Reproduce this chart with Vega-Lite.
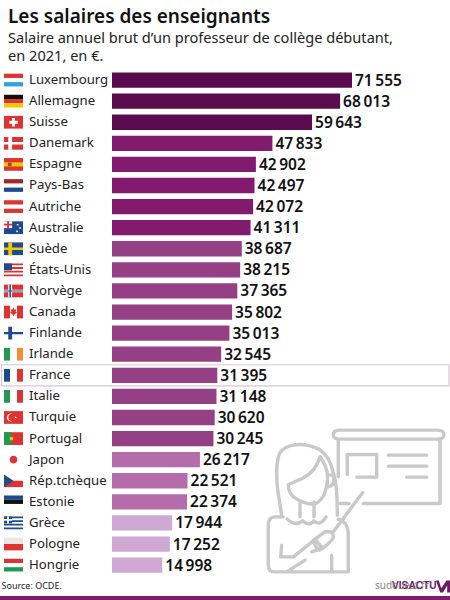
{
  "$schema": "https://vega.github.io/schema/vega-lite/v6.json",
  "width": 450,
  "height": 527.25,
  "padding": {"left": 0, "right": 0, "top": 69.5, "bottom": 3.25},
  "autosize": "none",
  "background": "white",
  "title": {
    "text": "Les salaires des enseignants",
    "subtitle": ["Salaire annuel brut d’un professeur de collège débutant,", "en 2021, en €."],
    "anchor": "start",
    "frame": "group",
    "dx": 8,
    "offset": 6,
    "font": "Noto Sans",
    "fontSize": 19,
    "fontWeight": 600,
    "color": "#111111",
    "subtitleFont": "Noto Sans",
    "subtitleFontSize": 14.6,
    "subtitleColor": "#222222",
    "subtitlePadding": 4,
    "subtitleLineHeight": 18
  },
  "config": {
    "view": {"stroke": null},
    "font": "Noto Sans",
    "locale": {"number": {"decimal": ",", "thousands": "\u2009", "grouping": [3], "currency": ["", " €"]}}
  },
  "datasets": {
    "salaires": [
      {"pays": "Luxembourg", "salaire": 71555},
      {"pays": "Allemagne", "salaire": 68013},
      {"pays": "Suisse", "salaire": 59643},
      {"pays": "Danemark", "salaire": 47833},
      {"pays": "Espagne", "salaire": 42902},
      {"pays": "Pays-Bas", "salaire": 42497},
      {"pays": "Autriche", "salaire": 42072},
      {"pays": "Australie", "salaire": 41311},
      {"pays": "Suède", "salaire": 38687},
      {"pays": "États-Unis", "salaire": 38215},
      {"pays": "Norvège", "salaire": 37365},
      {"pays": "Canada", "salaire": 35802},
      {"pays": "Finlande", "salaire": 35013},
      {"pays": "Irlande", "salaire": 32545},
      {"pays": "France", "salaire": 31395},
      {"pays": "Italie", "salaire": 31148},
      {"pays": "Turquie", "salaire": 30620},
      {"pays": "Portugal", "salaire": 30245},
      {"pays": "Japon", "salaire": 26217},
      {"pays": "Rép.tchèque", "salaire": 22521},
      {"pays": "Estonie", "salaire": 22374},
      {"pays": "Grèce", "salaire": 17944},
      {"pays": "Pologne", "salaire": 17252},
      {"pays": "Hongrie", "salaire": 14998}
    ],
    "drapeaux": [
      {"pays": "Luxembourg", "forme": "haut", "teinte": "rouge"},
      {"pays": "Luxembourg", "forme": "bas", "teinte": "ciel"},
      {"pays": "Allemagne", "forme": "haut", "teinte": "noir"},
      {"pays": "Allemagne", "forme": "milieu", "teinte": "rouge"},
      {"pays": "Allemagne", "forme": "bas", "teinte": "jaune"},
      {"pays": "Suisse", "forme": "plein", "teinte": "rouge"},
      {"pays": "Suisse", "forme": "croix", "teinte": "blanc"},
      {"pays": "Danemark", "forme": "plein", "teinte": "rouge"},
      {"pays": "Danemark", "forme": "nordique", "teinte": "blanc"},
      {"pays": "Espagne", "forme": "plein", "teinte": "rouge"},
      {"pays": "Espagne", "forme": "milieu", "teinte": "jaune"},
      {"pays": "Espagne", "forme": "ecusson", "teinte": "brun"},
      {"pays": "Pays-Bas", "forme": "haut", "teinte": "bordeaux"},
      {"pays": "Pays-Bas", "forme": "bas", "teinte": "bleu"},
      {"pays": "Autriche", "forme": "haut", "teinte": "rouge"},
      {"pays": "Autriche", "forme": "bas", "teinte": "rouge"},
      {"pays": "Australie", "forme": "plein", "teinte": "bleu"},
      {"pays": "Australie", "forme": "canton", "teinte": "blanc"},
      {"pays": "Australie", "forme": "croixcanton", "teinte": "rouge"},
      {"pays": "Australie", "forme": "etoiles", "teinte": "blanc"},
      {"pays": "Suède", "forme": "plein", "teinte": "bleu"},
      {"pays": "Suède", "forme": "nordique", "teinte": "jaune"},
      {"pays": "États-Unis", "forme": "rayures", "teinte": "rouge"},
      {"pays": "États-Unis", "forme": "canton", "teinte": "bleu"},
      {"pays": "Norvège", "forme": "plein", "teinte": "rouge"},
      {"pays": "Norvège", "forme": "nordique", "teinte": "blanc"},
      {"pays": "Norvège", "forme": "nordiquefin", "teinte": "bleu"},
      {"pays": "Canada", "forme": "gauche", "teinte": "rouge"},
      {"pays": "Canada", "forme": "droite", "teinte": "rouge"},
      {"pays": "Canada", "forme": "feuille", "teinte": "rouge"},
      {"pays": "Finlande", "forme": "nordique", "teinte": "bleu"},
      {"pays": "Irlande", "forme": "gauche", "teinte": "vert"},
      {"pays": "Irlande", "forme": "droite", "teinte": "orange"},
      {"pays": "France", "forme": "gauche", "teinte": "bleu"},
      {"pays": "France", "forme": "droite", "teinte": "rouge"},
      {"pays": "Italie", "forme": "gauche", "teinte": "vert"},
      {"pays": "Italie", "forme": "droite", "teinte": "rouge"},
      {"pays": "Turquie", "forme": "plein", "teinte": "rouge"},
      {"pays": "Turquie", "forme": "croissant", "teinte": "blanc"},
      {"pays": "Portugal", "forme": "plein", "teinte": "rouge"},
      {"pays": "Portugal", "forme": "hampe", "teinte": "vert"},
      {"pays": "Portugal", "forme": "sceau", "teinte": "jaune"},
      {"pays": "Japon", "forme": "disque", "teinte": "rouge"},
      {"pays": "Rép.tchèque", "forme": "moitie", "teinte": "rouge"},
      {"pays": "Rép.tchèque", "forme": "triangle", "teinte": "bleu"},
      {"pays": "Estonie", "forme": "haut", "teinte": "bleu"},
      {"pays": "Estonie", "forme": "milieu", "teinte": "noir"},
      {"pays": "Grèce", "forme": "rayures", "teinte": "bleu"},
      {"pays": "Grèce", "forme": "canton", "teinte": "bleu"},
      {"pays": "Grèce", "forme": "croixcanton", "teinte": "blanc"},
      {"pays": "Pologne", "forme": "moitiehaut", "teinte": "gris"},
      {"pays": "Pologne", "forme": "moitie", "teinte": "rouge"},
      {"pays": "Hongrie", "forme": "haut", "teinte": "rouge"},
      {"pays": "Hongrie", "forme": "bas", "teinte": "vert"}
    ]
  },
  "encoding": {
    "y": {
      "field": "pays",
      "type": "nominal",
      "axis": null,
      "sort": null,
      "scale": {
        "domain": ["Luxembourg", "Allemagne", "Suisse", "Danemark", "Espagne", "Pays-Bas", "Autriche", "Australie", "Suède", "États-Unis", "Norvège", "Canada", "Finlande", "Irlande", "France", "Italie", "Turquie", "Portugal", "Japon", "Rép.tchèque", "Estonie", "Grèce", "Pologne", "Hongrie", "Source"],
        "paddingInner": 0,
        "paddingOuter": 0
      }
    }
  },
  "layer": [
    {
      "data": {"values": [{"pays": "France"}]},
      "mark": {"type": "rect", "fill": null, "stroke": "#d9c3d9", "strokeWidth": 1.2},
      "encoding": {
        "x": {"datum": -32945, "type": "quantitative", "axis": null, "scale": {"domain": [-33392, 100775], "nice": false, "zero": false}},
        "x2": {"datum": 100475}
      }
    },
    {
      "data": {"values": [{"pays": "Estonie"}]},
      "mark": {
        "type": "point",
        "filled": false,
        "stroke": "#c9c9c9",
        "strokeWidth": 3.4,
        "strokeCap": "round",
        "strokeJoin": "round",
        "opacity": 1,
        "size": 40000,
        "shape": "M-.1,-.717H.873Q.94,-.717 .94,-.67Q.94,-.627 .873,-.627H-.1Q-.167,-.627 -.167,-.67Q-.167,-.717 -.1,-.717ZM-.117,-.617V-.25M.9,-.617V.017H.133M-.1,.017H-.007M.067,-.247H.267V-.473H-.027V-.273M.383,-.467H.767M.383,-.357H.767M.567,-.247H.767M-.717,-.45Q-.7,-.53 -.6,-.56Q-.45,-.6 -.3,-.52Q-.2,-.45 -.17,-.3Q-.127,-.2 -.127,.133M-.717,-.45Q-.75,-.3 -.72,-.1L-.683,.133M-.3,-.45Q-.35,-.3 -.45,-.25Q-.5,-.22 -.617,-.173Q-.617,-.08 -.55,-.04Q-.45,.03 -.35,.02Q-.25,-.02 -.227,-.2Q-.21,-.33 -.3,-.45ZM-.2,-.27Q-.16,-.27 -.16,-.22Q-.16,-.16 -.22,-.15M-.5,0V.15M-.36,0V.15M-.63,.17Q-.55,.25 -.473,.19Q-.41,.25 -.36,.19Q-.3,.25 -.24,.15M-.667,.15H-.75Q-.817,.15 -.817,.233V.633Q-.817,.7 -.75,.7H-.017V.333Q-.017,.2 -.117,.173M-.683,.433L-.693,.55H-.567L-.317,.35M-.367,.383L-.25,.3Q-.167,.283 -.167,.35Q-.167,.39 -.3,.483Q-.35,.46 -.367,.383ZM-.343,.383L-.273,.467M-.383,.5L-.283,.467M-.45,.583L-.633,.7M-.183,.533V.683M-.167,.3L.127,-.093"
      },
      "encoding": {
        "x": {"datum": 70959, "type": "quantitative"}
      }
    },
    {
      "data": {"name": "salaires"},
      "mark": {"type": "bar", "size": 15.3},
      "encoding": {
        "x": {"field": "salaire", "type": "quantitative"},
        "color": {
          "field": "salaire",
          "type": "quantitative",
          "legend": null,
          "scale": {
            "type": "threshold",
            "domain": [20000, 30000, 40000, 50000],
            "range": ["#cfa8d3", "#b56cab", "#953f84", "#821a6e", "#5a0b4d"]
          }
        }
      }
    },
    {
      "data": {"name": "salaires"},
      "mark": {"type": "text", "align": "left", "baseline": "middle", "dx": 3, "dy": 0.5, "font": "Noto Sans", "fontSize": 15.5, "fontWeight": 600, "color": "#111111"},
      "encoding": {
        "x": {"field": "salaire", "type": "quantitative"},
        "text": {"field": "salaire", "type": "quantitative", "format": ",d"}
      }
    },
    {
      "data": {"name": "salaires"},
      "mark": {"type": "text", "align": "left", "baseline": "middle", "font": "Noto Sans", "fontSize": 13.2, "color": "#222222"},
      "encoding": {
        "x": {"datum": -24746, "type": "quantitative"},
        "text": {"field": "pays"}
      }
    },
    {
      "data": {"name": "drapeaux"},
      "mark": {"type": "point", "filled": true, "opacity": 1, "size": 361},
      "encoding": {
        "x": {"datum": -29367, "type": "quantitative"},
        "shape": {
          "field": "forme",
          "legend": null,
          "scale": {
            "domain": ["plein", "haut", "milieu", "bas", "moitie", "moitiehaut", "gauche", "droite", "croix", "nordique", "nordiquefin", "canton", "croixcanton", "etoiles", "rayures", "feuille", "disque", "croissant", "hampe", "sceau", "triangle", "ecusson"],
            "range": [
              "M-1,-.67H1V.67H-1Z",
              "M-1,-.67H1V-.22H-1Z",
              "M-1,-.22H1V.22H-1Z",
              "M-1,.22H1V.67H-1Z",
              "M-1,0H1V.67H-1Z",
              "M-1,-.67H1V0H-1Z",
              "M-1,-.67H-.37V.67H-1Z",
              "M.37,-.67H1V.67H.37Z",
              "M-.15,-.45H.15V-.15H.45V.15H.15V.45H-.15V.15H-.45V-.15H-.15Z",
              "M-1,-.13H-.55V-.67H-.15V-.13H1V.13H-.15V.67H-.55V.13H-1Z",
              "M-1,-.06H-.43V-.67H-.27V-.06H1V.06H-.27V.67H-.43V.06H-1Z",
              "M-1,-.67H-.15V.05H-1Z",
              "M-.67,-.67H-.47V.05H-.67ZM-1,-.41H-.15V-.23H-1Z",
              "M.35,-.4h.17v.17h-.17ZM.6,-.05h.17v.17h-.17ZM.3,.3h.17v.17h-.17Z",
              "M-1,-.67H1V-.48H-1ZM-1,-.29H1V-.1H-1ZM-1,.09H1V.28H-1ZM-1,.48H1V.67H-1Z",
              "M0,-.5L.12,-.25L.3,-.3L.22,0L.4,.02L.1,.25L.03,.45H-.03L-.1,.25L-.4,.02L-.22,0L-.3,-.3L-.12,-.25Z",
              "M-.4,0A.4,.4 0 1 1 .4,0A.4,.4 0 1 1 -.4,0Z",
              "M-.15,-.4A.42,.42 0 1 0 -.15,.4A.33,.33 0 1 1 -.15,-.4ZM.15,-.12L.35,0L.15,.12Z",
              "M-1,-.67H-.2V.67H-1Z",
              "M-.42,0A.2,.2 0 1 1 -.02,0A.2,.2 0 1 1 -.42,0Z",
              "M-1,-.67L0,0L-1,.67Z",
              "M-.6,-.18H-.2V.18H-.6Z"
            ]
          }
        },
        "color": {
          "field": "teinte",
          "legend": null,
          "scale": {
            "domain": ["rouge", "ciel", "noir", "jaune", "blanc", "brun", "bordeaux", "bleu", "vert", "orange", "gris"],
            "range": ["#dd3333", "#2ba3dc", "#111111", "#f7c600", "#ffffff", "#9b4a1e", "#a3262a", "#1c4b8f", "#1f9a50", "#f28c38", "#e8e8e8"]
          }
        }
      }
    },
    {
      "data": {"values": [{"pays": "Source"}]},
      "mark": {"type": "text", "align": "left", "baseline": "middle", "font": "Noto Sans", "fontSize": 9, "color": "#222222", "text": "Source: OCDE."},
      "encoding": {
        "x": {"datum": -32945, "type": "quantitative"}
      }
    },
    {
      "data": {"values": [{"pays": "Source"}]},
      "mark": {"type": "text", "align": "left", "baseline": "middle", "font": "Liberation Sans", "fontSize": 10.2, "fontWeight": "bold", "color": "#6b1a63", "text": "VISACTU"},
      "encoding": {
        "x": {"datum": 83481, "type": "quantitative"}
      }
    },
    {
      "data": {"values": [{"pays": "Source"}]},
      "mark": {"type": "point", "filled": true, "opacity": 1, "color": "#6b1a63", "size": 196, "shape": "M-1,-.8H-.6L-.25,.3L.5,-.8H1V.9H.6V-.1L0,.9H-.4Z"},
      "encoding": {
        "x": {"datum": 98686, "type": "quantitative"}
      }
    },
    {
      "data": {"values": [{"pays": "Source"}]},
      "mark": {"type": "text", "align": "left", "baseline": "middle", "font": "Noto Sans", "fontSize": 10, "color": "#777777", "opacity": 0.9, "text": "sudouest.fr"},
      "encoding": {
        "x": {"datum": 78412, "type": "quantitative"}
      }
    },
    {
      "data": {"values": [{"pays": "Source"}]},
      "mark": {"type": "rule", "color": "#7f1a6e", "size": 4.5, "yOffset": 12},
      "encoding": {
        "x": {"datum": -33392, "type": "quantitative"},
        "x2": {"datum": 100775}
      }
    }
  ],
  "resolve": {"scale": {"color": "independent"}}
}
